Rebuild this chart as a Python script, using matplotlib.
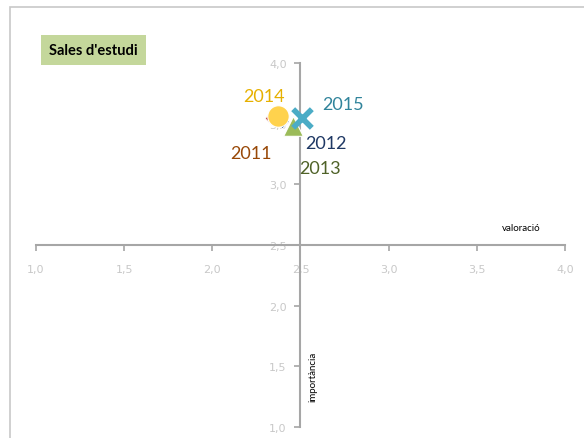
import matplotlib.pyplot as plt
from matplotlib.patches import Rectangle
from matplotlib.ticker import FuncFormatter

years = ['2011', '2012', '2013', '2014', '2015']
valoracio = [2.34, 2.395, 2.455, 2.37, 2.51]
importancia = [3.55, 3.52, 3.48, 3.56, 3.55]
markers = ['D', 'D', '^', 'o', 'x']
marker_sizes = [60, 55, 200, 240, 180]
marker_colors = ['#C0504D', '#1F497D', '#9BBB59', '#FFD24D', '#4BACC6']
text_colors = ['#984807', '#1F3864', '#4F6228', '#E6B000', '#31849B']
label_offsets = [(-30, -29), (17, -19), (5, -34), (-25, 11), (14, 6)]

fig = plt.figure(figsize=(5.84, 4.39), dpi=100)
fig.patches.append(Rectangle((10 / 584, -0.1), 1.2, 1 - 8 / 439 + 0.1,
                             transform=fig.transFigure, fill=False,
                             edgecolor='#C8C8C8', linewidth=1.2))

ax = fig.add_axes([36 / 584, 11 / 439, 529 / 584, 364 / 439])
ax.set_xlim(1.0, 4.0)
ax.set_ylim(1.0, 4.0)

for s in ['top', 'right']:
    ax.spines[s].set_visible(False)
ax.spines['left'].set_position(('data', 2.5))
ax.spines['bottom'].set_position(('data', 2.5))
for s in ['left', 'bottom']:
    ax.spines[s].set_color('#A6A6A6')
    ax.spines[s].set_linewidth(1.5)

comma = FuncFormatter(lambda v, p: f'{v:.1f}'.replace('.', ','))
ax.set_xticks([1.0, 1.5, 2.0, 2.5, 3.0, 3.5, 4.0])
ax.set_yticks([1.0, 1.5, 2.0, 2.5, 3.0, 3.5, 4.0])
ax.xaxis.set_major_formatter(comma)
ax.yaxis.set_major_formatter(comma)
ax.tick_params(colors='#A6A6A6', labelcolor='#C8C8C8', labelsize=8,
               length=4, width=1.2)
ax.tick_params(axis='x', pad=10)
ax.tick_params(axis='y', pad=6)

for i, y in enumerate(years):
    if markers[i] == 'x':
        ax.scatter(valoracio[i], importancia[i], marker='x',
                   s=marker_sizes[i], color=marker_colors[i],
                   linewidths=4, zorder=3 + i)
    else:
        ax.scatter(valoracio[i], importancia[i], marker=markers[i],
                   s=marker_sizes[i], color=marker_colors[i],
                   edgecolors='white', linewidths=0.8, zorder=3 + i)
    ax.annotate(y, (valoracio[i], importancia[i]), xytext=label_offsets[i],
                textcoords='offset points', color=text_colors[i],
                fontsize=13, fontfamily='Lato')

ax.text(3.86, 2.62, 'valoració', fontsize=7, ha='right', fontfamily='Lato')
ax.text(2.57, 1.42, 'importància', fontsize=7, rotation=90, ha='center',
        va='center', fontfamily='Lato')

fig.text(49 / 584, 1 - 51 / 439, "Sales d'estudi", fontsize=10.5,
         fontweight='bold', fontfamily='Lato', va='center',
         bbox=dict(facecolor='#C4D79B', edgecolor='none', pad=6))

fig.savefig('out.png', dpi=100)
